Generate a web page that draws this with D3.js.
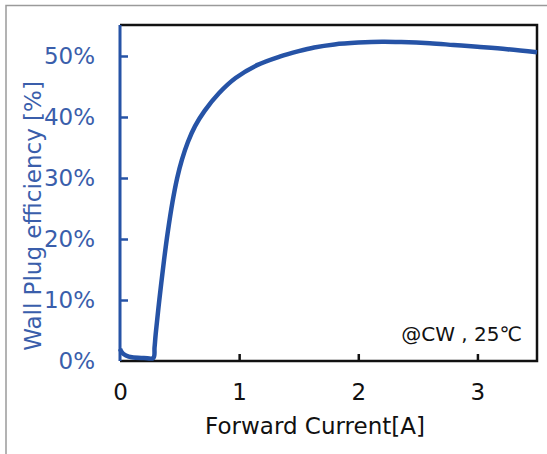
<!DOCTYPE html>
<html>
<head>
<meta charset="utf-8">
<script src="https://cdn.jsdelivr.net/npm/d3@7"></script>
<style>
  body { margin: 0; background: #fff; }
  svg { display: block; font-family: "DejaVu Sans", Verdana, sans-serif; }
</style>
</head>
<body>
<svg width="547" height="454"></svg>
<script>
// values: forward current [A] and wall plug efficiency [%]
var current = [0, 0.02, 0.05, 0.1, 0.2, 0.28, 0.29, 0.30, 0.33, 0.37, 0.40, 0.44, 0.48,
  0.52, 0.57, 0.63, 0.71, 0.83, 0.97, 1.15, 1.34, 1.5, 1.63, 1.8, 2.0, 2.2, 2.36, 2.6, 2.8,
  3.0, 3.25, 3.5];
var wpe = [2.0, 1.3, 0.9, 0.6, 0.5, 0.5, 2.2, 4.5, 10.0, 16.6, 21.0, 26.0, 30.0,
  33.0, 35.9, 38.5, 41.0, 43.9, 46.4, 48.5, 49.9, 50.8, 51.4, 51.9, 52.2, 52.35, 52.3, 52.1, 51.8,
  51.5, 51.1, 50.6];
var xTicks = [0, 1, 2, 3];
var yTicks = [0, 10, 20, 30, 40, 50];

var svg = d3.select("svg");
var blue = "#2653a6", labelBlue = "#3a5eab";

var x = d3.scaleLinear().domain([0, 3.5]).range([120, 537]);
var y = d3.scaleLinear().domain([0, 55.08]).range([361, 25]);

// outer grey frame
svg.append("path")
  .attr("d", "M6,460V5.5H560")
  .attr("fill", "none")
  .attr("stroke", "#9a9a9a")
  .attr("stroke-width", 1.5);

// plot box: black top/right/bottom
svg.append("path")
  .attr("d", "M" + x(0) + "," + y(55.08) + "H" + x(3.5) + "V" + y(0) + "H" + x(0))
  .attr("fill", "none")
  .attr("stroke", "#111")
  .attr("stroke-width", 2.5);

// x axis ticks (inward) and labels
var xAxis = svg.append("g").attr("transform", "translate(0," + y(0) + ")")
  .call(d3.axisBottom(x).tickValues(xTicks).tickSize(-7).tickPadding(22).tickFormat(d3.format("d")));
xAxis.select(".domain").remove();
xAxis.selectAll(".tick line").attr("stroke", "#111").attr("stroke-width", 2.5);
xAxis.selectAll(".tick text").attr("fill", "#111").style("font-size", "23px")
  .style("font-family", "DejaVu Sans").attr("dy", "0.72em");
xAxis.selectAll(".tick").filter(function(d) { return d === 0; }).select("line").remove();

// y axis (blue)
var yAxis = svg.append("g").attr("transform", "translate(" + x(0) + ",0)")
  .call(d3.axisLeft(y).tickValues(yTicks).tickSize(-8).tickPadding(25).tickFormat(function(d) { return d + "%"; }));
yAxis.select(".domain").attr("stroke", blue).attr("stroke-width", 3)
  .attr("d", "M0," + y(0) + "V" + y(55.08));
yAxis.selectAll(".tick line").attr("stroke", blue).attr("stroke-width", 2.5);
yAxis.selectAll(".tick text").attr("fill", labelBlue).style("font-size", "23px")
  .style("font-family", "DejaVu Sans");
yAxis.selectAll(".tick").filter(function(d) { return d === 0; }).select("line").remove();

// curve
var pts = current.map(function(c, i) { return [c, wpe[i]]; });
var line = d3.line()
  .x(function(d) { return x(d[0]); })
  .y(function(d) { return y(d[1]); })
  .curve(d3.curveCatmullRom.alpha(0.5));

svg.append("path")
  .datum(pts)
  .attr("d", line)
  .attr("fill", "none")
  .attr("stroke", blue)
  .attr("stroke-width", 4.5)
  .attr("stroke-linejoin", "round");

// axis titles
svg.append("text")
  .attr("x", 315).attr("y", 434)
  .attr("text-anchor", "middle")
  .attr("fill", "#111")
  .style("font-size", "23px")
  .text("Forward Current[A]");

svg.append("text")
  .attr("transform", "translate(41,216) rotate(-90)")
  .attr("text-anchor", "middle")
  .attr("fill", labelBlue)
  .style("font-size", "23px")
  .text("Wall Plug efficiency [%]");

// condition note
svg.append("text")
  .attr("x", 522).attr("y", 341)
  .attr("text-anchor", "end")
  .attr("fill", "#111")
  .style("font-size", "20px")
  .text("@CW , 25\u2103");
</script>
</body>
</html>
